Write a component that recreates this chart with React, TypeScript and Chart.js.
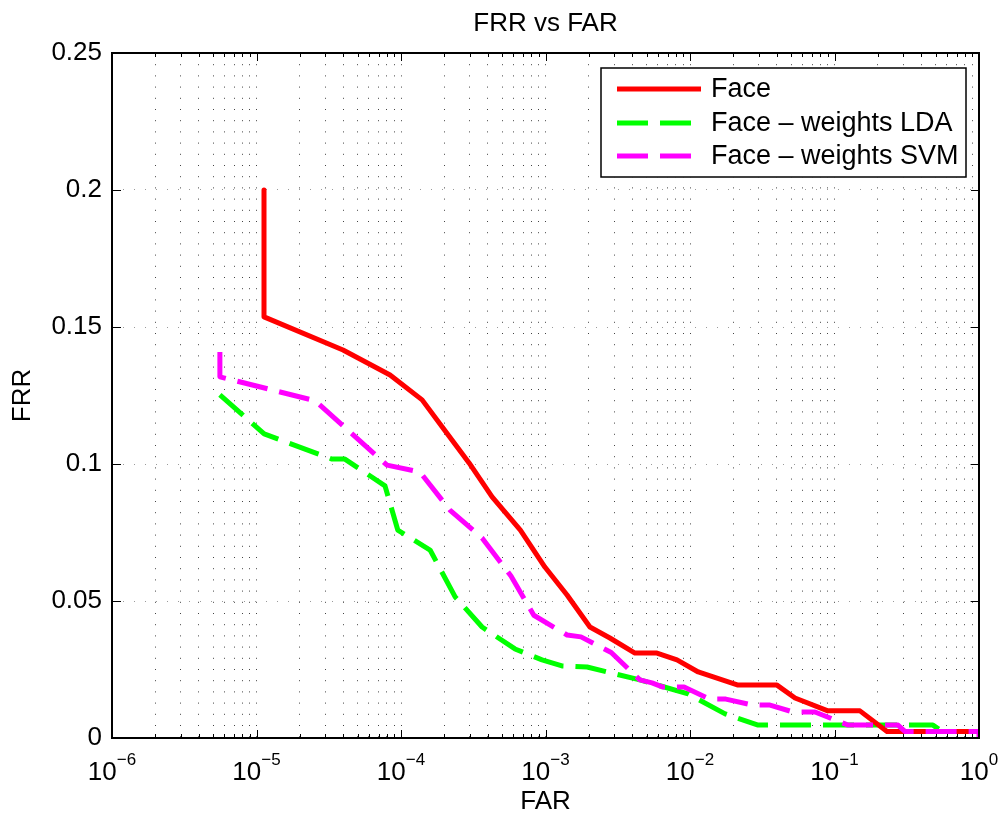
import React, { useEffect, useRef } from "react";
import { Chart, registerables } from "chart.js";

Chart.register(...registerables);

const FONT = "'Liberation Sans', Arial, Helvetica, sans-serif";

// ---- data ----
const faceFAR = [1.127e-5, 1.127e-5, 3.97e-5, 8.4e-5, 1.4e-4, 2.0e-4, 2.96e-4, 4.27e-4, 6.7e-4, 9.9e-4, 1.41e-3, 2.03e-3, 2.79e-3, 4.16e-3, 5.91e-3, 8.13e-3, 1.14e-2, 2.15e-2, 4.0e-2, 5.33e-2, 9.0e-2, 0.15, 0.231, 1];
const faceFRR = [0.2, 0.1537, 0.1416, 0.1325, 0.1234, 0.1124, 0.1004, 0.088, 0.0759, 0.0624, 0.0522, 0.0405, 0.0365, 0.031, 0.031, 0.0285, 0.0241, 0.0193, 0.0193, 0.0146, 0.0099, 0.0099, 0.0024, 0.0024];

const ldaFAR = [5.58e-6, 1.13e-5, 3.33e-5, 4.09e-5, 7.75e-5, 9.5e-5, 1.59e-4, 2.37e-4, 3.64e-4, 6.15e-4, 9.46e-4, 1.3e-3, 1.94e-3, 4.5e-3, 9.7e-3, 1.75e-2, 2.96e-2, 0.48, 0.555, 1];
const ldaFRR = [0.1252, 0.111, 0.1018, 0.1018, 0.092, 0.0759, 0.0686, 0.0515, 0.0405, 0.0325, 0.0285, 0.0263, 0.0259, 0.0212, 0.0161, 0.0088, 0.0047, 0.0047, 0.0024, 0.0024];

const svmFAR = [5.58e-6, 5.58e-6, 2.54e-5, 8.0e-5, 1.35e-4, 2.18e-4, 3.64e-4, 5.77e-4, 8.3e-4, 1.41e-3, 1.76e-3, 2.85e-3, 4.5e-3, 5.46e-3, 6.5e-3, 9.1e-3, 1.37e-2, 1.77e-2, 2.73e-2, 3.58e-2, 5.16e-2, 7.33e-2, 0.124, 0.275, 0.307, 1, 1];
const svmFRR = [0.1409, 0.1318, 0.1231, 0.0996, 0.0971, 0.0832, 0.073, 0.0591, 0.0448, 0.0376, 0.0369, 0.0312, 0.0212, 0.0201, 0.0186, 0.0186, 0.0142, 0.0142, 0.012, 0.012, 0.0095, 0.0095, 0.0047, 0.0047, 0.0024, 0.0024, 0];

const seriesLabels = ["Face", "Face \u2013 weights LDA", "Face \u2013 weights SVM"];
const seriesColors = ["#ff0000", "#00ff00", "#ff00ff"];

// ---- axis ticks ----
const xDecades = [1e-6, 1e-5, 1e-4, 1e-3, 1e-2, 1e-1, 1];
const xDecadeExponents = ["\u22126", "\u22125", "\u22124", "\u22123", "\u22122", "\u22121", "0"];
const xMinorMultipliers = [2, 3, 4, 5, 6, 7, 8, 9];
const yTicks = [0, 0.05, 0.1, 0.15, 0.2, 0.25];

const xMinorTicks: number[] = [];
xDecades.slice(0, -1).forEach((d) => xMinorMultipliers.forEach((m) => xMinorTicks.push(d * m)));
const xAllTicks = [...xDecades, ...xMinorTicks].sort((a, b) => a - b);

const toPoints = (xs: number[], ys: number[]) => xs.map((x, i) => ({ x, y: ys[i] }));

const framePlugin = {
  id: "matlabFrame",
  afterDatasetsDraw(chart: any) {
    const { ctx, chartArea } = chart;
    const { left, top, right, bottom } = chartArea;
    const xs = chart.scales.x;
    const ys = chart.scales.y;
    ctx.save();

    // inward tick marks
    ctx.strokeStyle = "#000";
    ctx.lineWidth = 1;
    ctx.beginPath();
    const vTick = (v: number, len: number) => {
      const px = Math.round(xs.getPixelForValue(v)) + 0.5;
      ctx.moveTo(px, bottom);
      ctx.lineTo(px, bottom - len);
      ctx.moveTo(px, top);
      ctx.lineTo(px, top + len);
    };
    xDecades.forEach((v) => vTick(v, 8));
    xMinorTicks.forEach((v) => vTick(v, 4));
    yTicks.forEach((v) => {
      const py = Math.round(ys.getPixelForValue(v)) + 0.5;
      ctx.moveTo(left, py);
      ctx.lineTo(left + 9, py);
      ctx.moveTo(right, py);
      ctx.lineTo(right - 8, py);
    });
    ctx.stroke();

    // axes box
    ctx.lineWidth = 2;
    ctx.strokeRect(left, top, right - left, bottom - top);

    // x tick labels 10^k
    ctx.fillStyle = "#000";
    ctx.textBaseline = "alphabetic";
    ctx.textAlign = "left";
    xDecades.forEach((v, i) => {
      const px = xs.getPixelForValue(v);
      ctx.font = `26px ${FONT}`;
      const wBase = ctx.measureText("10").width;
      ctx.font = `17px ${FONT}`;
      const wExp = ctx.measureText(xDecadeExponents[i]).width;
      const start = px - (wBase + wExp) / 2;
      ctx.font = `26px ${FONT}`;
      ctx.fillText("10", start, 780);
      ctx.font = `17px ${FONT}`;
      ctx.fillText(xDecadeExponents[i], start + wBase, 765);
    });

    // legend
    const lx0 = 601, ly0 = 68, lx1 = 966, ly1 = 177;
    ctx.fillStyle = "#fff";
    ctx.fillRect(lx0, ly0, lx1 - lx0, ly1 - ly0);
    ctx.strokeStyle = "#000";
    ctx.lineWidth = 1.5;
    ctx.strokeRect(lx0, ly0, lx1 - lx0, ly1 - ly0);
    const rows = [89, 123, 156];
    chart.data.datasets.forEach((ds: any, i: number) => {
      const y = rows[i];
      ctx.save();
      ctx.strokeStyle = ds.borderColor;
      ctx.lineWidth = ds.borderWidth;
      ctx.setLineDash(ds.borderDash || []);
      ctx.lineCap = "butt";
      ctx.beginPath();
      ctx.moveTo(617, y);
      ctx.lineTo(701, y);
      ctx.stroke();
      ctx.restore();
      ctx.fillStyle = "#000";
      ctx.font = `27px ${FONT}`;
      ctx.textBaseline = "middle";
      ctx.fillText(ds.label, 711, y + 1);
    });

    ctx.restore();
  },
};

export default function App() {
  const canvasRef = useRef<HTMLCanvasElement | null>(null);

  useEffect(() => {
    const canvas = canvasRef.current;
    if (!canvas) return;
    const dash = [31, 12];
    const chart = new Chart(canvas, {
      type: "scatter",
      data: {
        datasets: [
          {
            label: seriesLabels[0],
            data: toPoints(faceFAR, faceFRR),
            borderColor: seriesColors[0],
            backgroundColor: seriesColors[0],
            borderWidth: 5,
            showLine: true,
            pointRadius: 0,
            order: 2,
            borderJoinStyle: "round",
          },
          {
            label: seriesLabels[1],
            data: toPoints(ldaFAR, ldaFRR),
            borderColor: seriesColors[1],
            backgroundColor: seriesColors[1],
            borderWidth: 5,
            borderDash: dash,
            showLine: true,
            pointRadius: 0,
            order: 3,
            borderJoinStyle: "round",
          },
          {
            label: seriesLabels[2],
            data: toPoints(svmFAR, svmFRR),
            borderColor: seriesColors[2],
            backgroundColor: seriesColors[2],
            borderWidth: 5,
            borderDash: dash,
            showLine: true,
            pointRadius: 0,
            order: 1,
            borderJoinStyle: "round",
          },
        ] as any,
      },
      options: {
        responsive: false,
        animation: false,
        devicePixelRatio: 1,
        events: [],
        layout: { padding: { left: 0, right: 22, top: 0, bottom: 0 } },
        plugins: {
          legend: { display: false },
          tooltip: { enabled: false },
          title: {
            display: true,
            fullSize: false,
            text: "FRR vs FAR",
            color: "#000",
            font: { family: FONT, size: 26, weight: "normal", lineHeight: 1.2 },
            padding: { top: 8, bottom: 13.8 },
          },
        },
        scales: {
          x: {
            type: "logarithmic",
            min: 1e-6,
            max: 1,
            afterBuildTicks: (scale: any) => {
              scale.ticks = xAllTicks.map((v) => ({ value: v }));
            },
            afterFit: (scale: any) => {
              scale.height = 76;
            },
            ticks: { display: false },
            grid: { color: "#444", lineWidth: 1, drawTicks: false },
            border: { display: false, dash: [1, 10.2] },
            title: {
              display: true,
              text: "FAR",
              color: "#000",
              font: { family: FONT, size: 26, lineHeight: 0.9 },
              padding: { top: 0, bottom: 0 },
            },
          },
          y: {
            type: "linear",
            min: 0,
            max: 0.25,
            afterBuildTicks: (scale: any) => {
              scale.ticks = yTicks.map((v) => ({ value: v }));
            },
            afterFit: (scale: any) => {
              scale.width = 112;
            },
            ticks: {
              color: "#000",
              font: { family: FONT, size: 26 },
              padding: 10,
              callback: (v: any) => String(v),
            },
            grid: { color: "#9a9a9a", lineWidth: 1, drawTicks: false },
            border: { display: false, dash: [1, 10] },
            title: {
              display: true,
              text: "FRR",
              color: "#000",
              font: { family: FONT, size: 26, lineHeight: 1.2 },
              padding: { top: 7, bottom: 0 },
            },
          },
        },
      } as any,
      plugins: [framePlugin],
    });
    return () => chart.destroy();
  }, []);

  return (
    <div style={{ position: "absolute", left: 0, top: 0, width: 1001, height: 814, background: "#fff" }}>
      <canvas ref={canvasRef} width={1001} height={814} style={{ display: "block", width: 1001, height: 814 }} />
    </div>
  );
}
